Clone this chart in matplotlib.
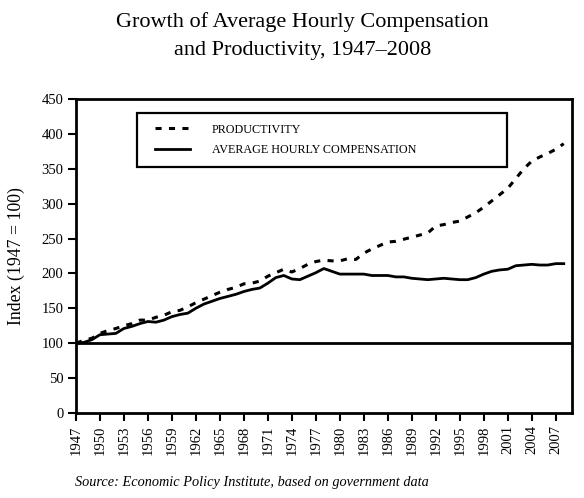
import numpy as np
import matplotlib
matplotlib.use('Agg')
import matplotlib.pyplot as plt
from matplotlib.patches import Rectangle

# Serie annuali 1947-2008 (indice 1947 = 100)
years = np.arange(1947, 2009)

productivity = [
    100, 104, 107, 114, 118, 121, 125, 128, 133, 133,
    137, 140, 145, 147, 152, 158, 163, 168, 173, 177,
    180, 185, 186, 189, 196, 201, 206, 202, 207, 213,
    217, 219, 218, 218, 221, 220, 229, 235, 240, 245,
    246, 249, 252, 255, 258, 268, 270, 273, 275, 281,
    287, 295, 304, 313, 322, 336, 350, 361, 367, 372,
    378, 386,
]

compensation = [
    100, 101, 105, 112, 113, 114, 121, 124, 128, 131,
    130, 133, 138, 141, 143, 150, 156, 160, 164, 167,
    170, 174, 177, 179, 186, 194, 197, 192, 191, 196,
    201, 207, 203, 199, 199, 199, 199, 197, 197, 197,
    195, 195, 193, 192, 191, 192, 193, 192, 191, 191,
    194, 199, 203, 205, 206, 211, 212, 213, 212, 212,
    214, 214,
]

xticks = np.arange(1947, 2008, 3)
yticks = np.arange(0, 451, 50)

plt.rcParams['font.family'] = ['Liberation Serif', 'DejaVu Serif']

fig = plt.figure(figsize=(5.84, 4.98), dpi=100, facecolor='w')
ax = fig.add_axes([0.130, 0.171, 0.849, 0.630])

ax.plot(years, productivity, color='k', linewidth=2.2, linestyle=(0, (2.0, 2.4)),
        label='PRODUCTIVITY')
ax.plot(years, compensation, color='k', linewidth=2.0, linestyle='-',
        label='AVERAGE HOURLY COMPENSATION')

# Linea di riferimento a 100
ax.axhline(100, color='k', linewidth=2)

ax.set_xlim(1947, 2009)
ax.set_ylim(0, 450)
ax.set_xticks(xticks)
ax.set_xticklabels([str(y) for y in xticks], rotation=90, fontsize=10.5)
ax.set_yticks(yticks)
ax.set_yticklabels([str(v) for v in yticks], fontsize=10.5)
ax.tick_params(direction='out', length=6, width=1.5, pad=3)

for s in ax.spines.values():
    s.set_linewidth(2)

ax.set_ylabel('Index (1947 = 100)', fontsize=12.8, labelpad=12)

# Riquadro della legenda
box = Rectangle((0.123, 0.783), 0.746, 0.172, transform=ax.transAxes,
                facecolor='w', edgecolor='k', linewidth=1.6, zorder=3)
ax.add_patch(box)

leg = ax.legend(
    loc='upper left',
    bbox_to_anchor=(0.159, 0.922),
    fontsize=8.7,
    frameon=False,
    handlelength=2.9,
    handletextpad=1.8,
    labelspacing=0.7,
    borderpad=0,
    borderaxespad=0,
)
leg.set_zorder(4)

# Titolo
fig.text(0.518, 1 - 27 / 498, 'Growth of Average Hourly Compensation',
         ha='center', va='baseline', fontsize=16)
fig.text(0.518, 1 - 55 / 498, 'and Productivity, 1947\u20132008',
         ha='center', va='baseline', fontsize=16)

# Fonte
fig.text(0.128, 0.032, 'Source: Economic Policy Institute, based on government data',
         ha='left', va='center', fontsize=10.3, style='italic')

fig.savefig('out.png', dpi=100)
